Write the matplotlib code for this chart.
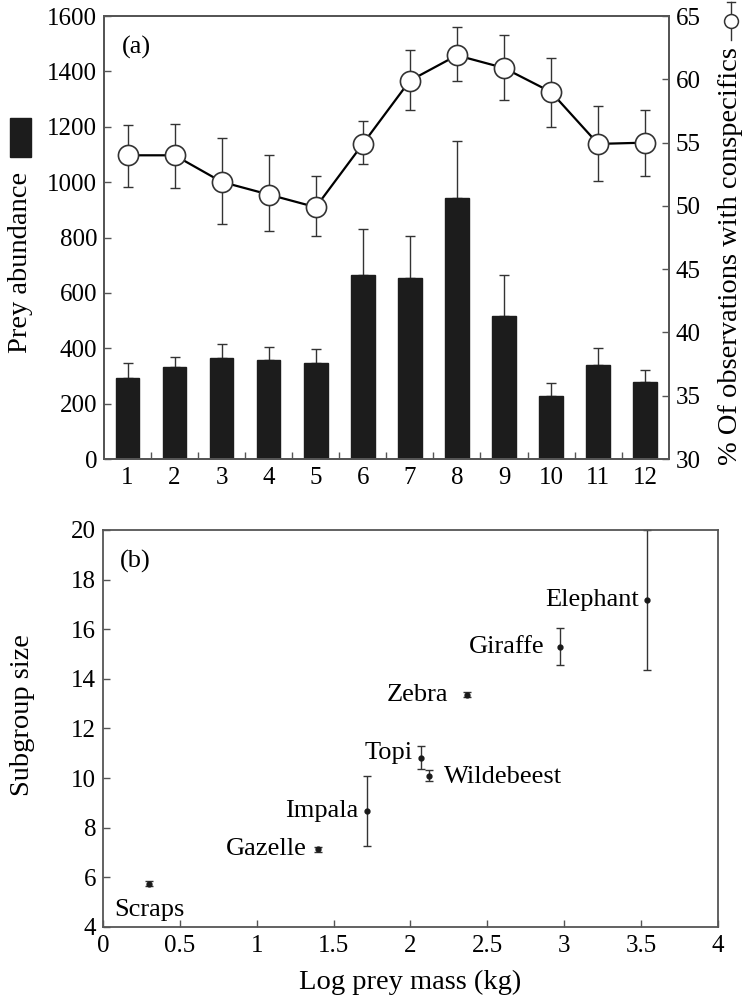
import numpy as np
import matplotlib
matplotlib.use("Agg")
import matplotlib.pyplot as plt
from matplotlib.lines import Line2D
from matplotlib.patches import Rectangle

plt.rcParams["font.family"] = ["Liberation Serif", "DejaVu Serif"]

# panel (a): monthly prey abundance and % observations with conspecifics
months = np.arange(1, 13)
prey = [291, 333, 364, 356, 346, 663, 654, 943, 518, 226, 338, 277]
prey_err_top = [346, 370, 414, 406, 399, 831, 806, 1148, 663, 273, 400, 322]
conspec = [54.0, 54.0, 51.9, 50.9, 49.9, 54.9, 59.9, 61.9, 60.9, 59.0, 54.9, 55.0]
conspec_hi = [56.4, 56.5, 55.4, 54.0, 52.4, 56.7, 62.3, 64.1, 63.5, 61.7, 57.9, 57.6]
conspec_lo = [51.5, 51.4, 48.6, 48.0, 47.6, 53.3, 57.6, 59.9, 58.4, 56.2, 52.0, 52.4]

# panel (b): subgroup size vs log prey mass
species = ["Scraps", "Gazelle", "Impala", "Topi", "Wildebeest", "Zebra", "Giraffe", "Elephant"]
log_mass = [0.30, 1.40, 1.72, 2.07, 2.12, 2.37, 2.97, 3.54]
subgroup = [5.75, 7.13, 8.68, 10.83, 10.10, 13.35, 15.29, 17.18]
subgroup_err = [0.10, 0.10, 1.42, 0.45, 0.22, 0.10, 0.75, 2.83]
# label placement (offset in points, horizontal alignment)
label_pos = {
    "Scraps": ((0, -19), "center"),
    "Gazelle": ((-8, 0), "right"),
    "Impala": ((-6.5, 0), "right"),
    "Topi": ((-6, 3), "right"),
    "Wildebeest": ((11, -1), "left"),
    "Zebra": ((-14, 0), "right"),
    "Giraffe": ((-11, 0), "right"),
    "Elephant": ((-6, 0), "right"),
}

spine_col = "#555555"
dark = "#1c1c1c"
tick_fs = 18
label_fs = 20.5
note_fs = 19

fig = plt.figure(figsize=(7.43, 9.99), dpi=100)


def style_axis(ax):
    for s in ax.spines.values():
        s.set_color(spine_col)
        s.set_linewidth(1.3)
    ax.tick_params(direction="in", length=5, width=1, color=spine_col,
                   labelsize=tick_fs, pad=5)


# ---- panel (a)
ax = fig.add_axes([0.140, 0.5405, 0.760, 0.4434])
ax2 = ax.twinx()
prey_err = np.array(prey_err_top) - np.array(prey)
ax.bar(months, prey, width=0.5, color=dark, edgecolor=dark, zorder=2)
ax.errorbar(months, prey, yerr=[np.zeros(12), prey_err], fmt="none",
            ecolor="#333333", elinewidth=1, capsize=3.5, capthick=1, zorder=1)
ax.set_xlim(0.5, 12.5)
ax.set_ylim(0, 1600)
ax.set_yticks(np.arange(0, 1601, 200))
ax.set_xticks(months)
ax.set_xticks(np.arange(1.5, 12, 1), minor=True)
style_axis(ax)
ax.tick_params(axis="x", which="major", length=0, pad=6)
ax.tick_params(axis="x", which="minor", direction="in", length=5, width=1, color=spine_col)
ax.tick_params(axis="y", right=False)

yerr_c = [np.array(conspec) - np.array(conspec_lo), np.array(conspec_hi) - np.array(conspec)]
ax2.errorbar(months, conspec, yerr=yerr_c, fmt="none", ecolor="#333333",
             elinewidth=1, capsize=3.5, capthick=1, zorder=2)
ax2.plot(months, conspec, color="black", lw=1.6, marker="o", ms=14.5,
         mfc="white", mec="#333333", mew=1.2, zorder=3)
ax2.set_ylim(30, 65)
ax2.set_yticks(np.arange(30, 66, 5))
style_axis(ax2)
ax.text(0.032, 0.93, "(a)", transform=ax.transAxes, fontsize=note_fs, va="center")

# left label with black bar key
fig.text(0.027, 1 - 262 / 999, "Prey abundance", rotation=90, fontsize=label_fs,
         ha="center", va="center")
fig.add_artist(Rectangle((10 / 743, 1 - 157 / 999), 21 / 743, 39 / 999,
                         transform=fig.transFigure, color=dark))

# right label with open-circle key
fig.text(0.983, 1 - 256 / 999, "% Of observations with conspecifics", rotation=90,
         fontsize=label_fs, ha="center", va="center")
kx = 731 / 743
fig.add_artist(Line2D([kx, kx], [1 - 2 / 999, 1 - 40 / 999], transform=fig.transFigure,
                      color="#333333", lw=1))
fig.add_artist(Line2D([kx - 4 / 743, kx + 4 / 743], [1 - 2 / 999, 1 - 2 / 999],
                      transform=fig.transFigure, color="#333333", lw=1))
fig.add_artist(Line2D([kx], [1 - 21 / 999], transform=fig.transFigure, marker="o",
                      ms=10, mfc="white", mec="#333333", mew=1.1))

# ---- panel (b)
bx = fig.add_axes([0.1386, 0.0721, 0.8277, 0.3974])
bx.errorbar(log_mass, subgroup, yerr=subgroup_err, fmt="o", ms=3.5, color="#1a1a1a",
            ecolor="#333333", elinewidth=1, capsize=3, capthick=1, clip_on=False)
for name, x, y in zip(species, log_mass, subgroup):
    off, ha = label_pos[name]
    bx.annotate(name, (x, y), xytext=off, textcoords="offset points", ha=ha,
                va="center", fontsize=note_fs)
bx.set_xlim(0, 4)
bx.set_ylim(4, 20)
bx.set_xticks(np.arange(0, 4.01, 0.5))
bx.set_xticklabels(["0", "0.5", "1", "1.5", "2", "2.5", "3", "3.5", "4"])
bx.set_yticks(np.arange(4, 21, 2))
style_axis(bx)
bx.tick_params(axis="x", pad=6)
bx.text(0.028, 0.92, "(b)", transform=bx.transAxes, fontsize=note_fs, va="center")
bx.set_xlabel("Log prey mass (kg)", fontsize=label_fs, labelpad=9)
bx.set_ylabel("Subgroup size", fontsize=label_fs)
bx.yaxis.set_label_coords(-0.11, 0.535)

fig.savefig("out.png", dpi=100)
